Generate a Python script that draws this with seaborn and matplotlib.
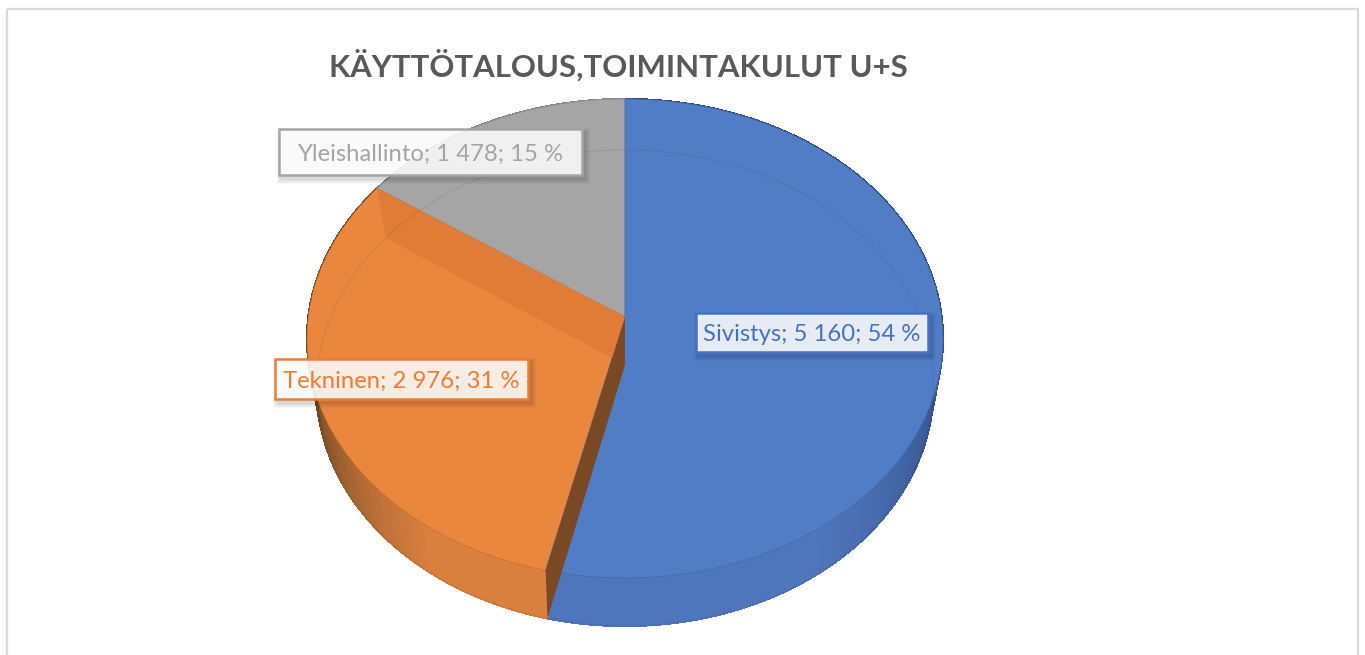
import numpy as np
import matplotlib
matplotlib.use("Agg")
import matplotlib.pyplot as plt
from matplotlib.collections import LineCollection, PolyCollection
from matplotlib.colors import to_rgb
from matplotlib.patches import Rectangle
from matplotlib.transforms import Transform
import seaborn as sns

# Chart data
categories = ["Sivistys", "Tekninen", "Yleishallinto"]
values = [5160, 2976, 1478]
percent_labels = ["54 %", "31 %", "15 %"]
value_labels = ["5 160", "2 976", "1 478"]
title = "KÄYTTÖTALOUS,TOIMINTAKULUT U+S"

sns.set_theme(style="white")
plt.rcParams["font.family"] = ["Lato", "DejaVu Sans"]
palette = sns.color_palette(["#517DC6", "#EA873F", "#A5A5A5"])
text_colors = ["#4472C4", "#ED7D31", "#A5A5A5"]

# Perspective of the tilted disc: centre x, apex y, x radius, y radius, foreshortening
TOP_FACE = (625, 317, 316.7, 237.6, 0.0897)
BASE_FACE = (625, 365, 307.0, 235.8, 0.0967)


def project(u, v, face):
    cx, cy, a, b, k = face
    w = 1 + k * v
    return cx + a * u / w, cy - b * v / w


class DiscView(Transform):
    input_dims = 2
    output_dims = 2

    def __init__(self, face):
        super().__init__()
        self.face = face

    def transform_non_affine(self, xy):
        x, y = project(xy[:, 0], xy[:, 1], self.face)
        return np.column_stack([x, y])


def on_disc(theta, face):
    # theta in degrees, clockwise from twelve o'clock
    t = np.radians(theta)
    return project(np.sin(t), np.cos(t), face)


def blend(c1, c2, t):
    return tuple((1 - t) * np.array(to_rgb(c1)) + t * np.array(to_rgb(c2)))


fig = plt.figure(figsize=(13.65, 6.55), dpi=100)
ax = fig.add_axes([0, 0, 1, 1])

wedges, _ = ax.pie(values, colors=palette, startangle=90, counterclock=False, radius=1)
ax.set_aspect("auto")
ax.set_xlim(0, 1365)
ax.set_ylim(655, 0)
ax.axis("off")

ends = np.cumsum(values) / np.sum(values) * 360
starts = np.concatenate([[0], ends[:-1]])

# Outer frame of the chart area
ax.add_patch(Rectangle((7, 9), 1351, 660, fill=False, ec="#DADADA", lw=1.6, zorder=0))

# Side wall of the disc, shaded along the rim
rim_shades = [("#2E4A7E", "#4F76BC", 90, 145), ("#6A4424", "#D9803F", 262, 215), ("#777777", "#8A8A8A", 300, 360)]
for start, end, (dark, light, t0, t1) in zip(starts, ends, rim_shades):
    thetas = np.arange(start, end + 1, 1.0)
    thetas[-1] = end
    quads, shades, outline = [], [], []
    for a, b in zip(thetas[:-1], thetas[1:]):
        quads.append([on_disc(a, TOP_FACE), on_disc(b, TOP_FACE), on_disc(b, BASE_FACE), on_disc(a, BASE_FACE)])
        outline.append([on_disc(a, BASE_FACE), on_disc(b, BASE_FACE)])
        t = np.clip((a - t0) / (t1 - t0), 0, 1)
        shades.append(blend(dark, light, t))
    ax.add_collection(PolyCollection(quads, facecolors=shades, edgecolors=shades, linewidths=0.8,
                                     antialiaseds=False, zorder=1), autolim=False)
    ax.add_collection(LineCollection(outline, colors=shades, linewidths=1.2, zorder=1.5), autolim=False)

# Top face of the pie
edge_colors = ["#4269AD", "#C86E2E", "#8E8E8E"]
view = DiscView(TOP_FACE) + ax.transData
for wedge, ec, z in zip(wedges, edge_colors, [2.2, 2.1, 2.0]):
    wedge.set_transform(view)
    wedge.set_edgecolor(ec)
    wedge.set_linewidth(0.5)
    wedge.set_zorder(z)

apex_top = project(0, 0, TOP_FACE)
apex_base = project(0, 0, BASE_FACE)

# Inner walls at the two visible cuts
cut = ends[1]
ax.fill(*zip(apex_top, on_disc(cut, TOP_FACE), on_disc(cut, BASE_FACE), apex_base),
        color="#E07C37", lw=0, zorder=3)
cut = ends[0]
ax.fill(*zip(apex_top, on_disc(cut, TOP_FACE), on_disc(cut, BASE_FACE), apex_base),
        color="#7A4822", lw=0, zorder=3)

# Faint outline of the base showing through the faces
ring = np.linspace(0, 360, 361)
ax.plot(*on_disc(ring, BASE_FACE), color="#333333", alpha=0.11, lw=0.8, zorder=3.5)

# Data labels
boxes = [(696, 313, 232, 39), (275, 359, 253, 40), (279, 129, 303, 46)]
for name, val, pct, color, (x, y, w, h) in zip(categories, value_labels, percent_labels, text_colors, boxes):
    for i in range(1, 6):
        ax.add_patch(Rectangle((x + 3 - i, y + 4 - i), w + 2 * i, h + 2 * i, fc="black", ec="none", alpha=0.03, zorder=4))
    ax.add_patch(Rectangle((x, y), w, h, fc="white", ec="none", alpha=0.88, zorder=5))
    ax.add_patch(Rectangle((x, y), w, h, fill=False, ec=color, lw=1.8, zorder=6))
    ax.text(x + w / 2, y + h / 2, f"{name}; {val}; {pct}", color=color, fontsize=17.2, ha="center", va="center_baseline", zorder=7)

ax.text(618, 65, title, color="#595959", fontsize=22.4, fontweight="bold", ha="center", va="center")

fig.savefig("out.png", dpi=100)
